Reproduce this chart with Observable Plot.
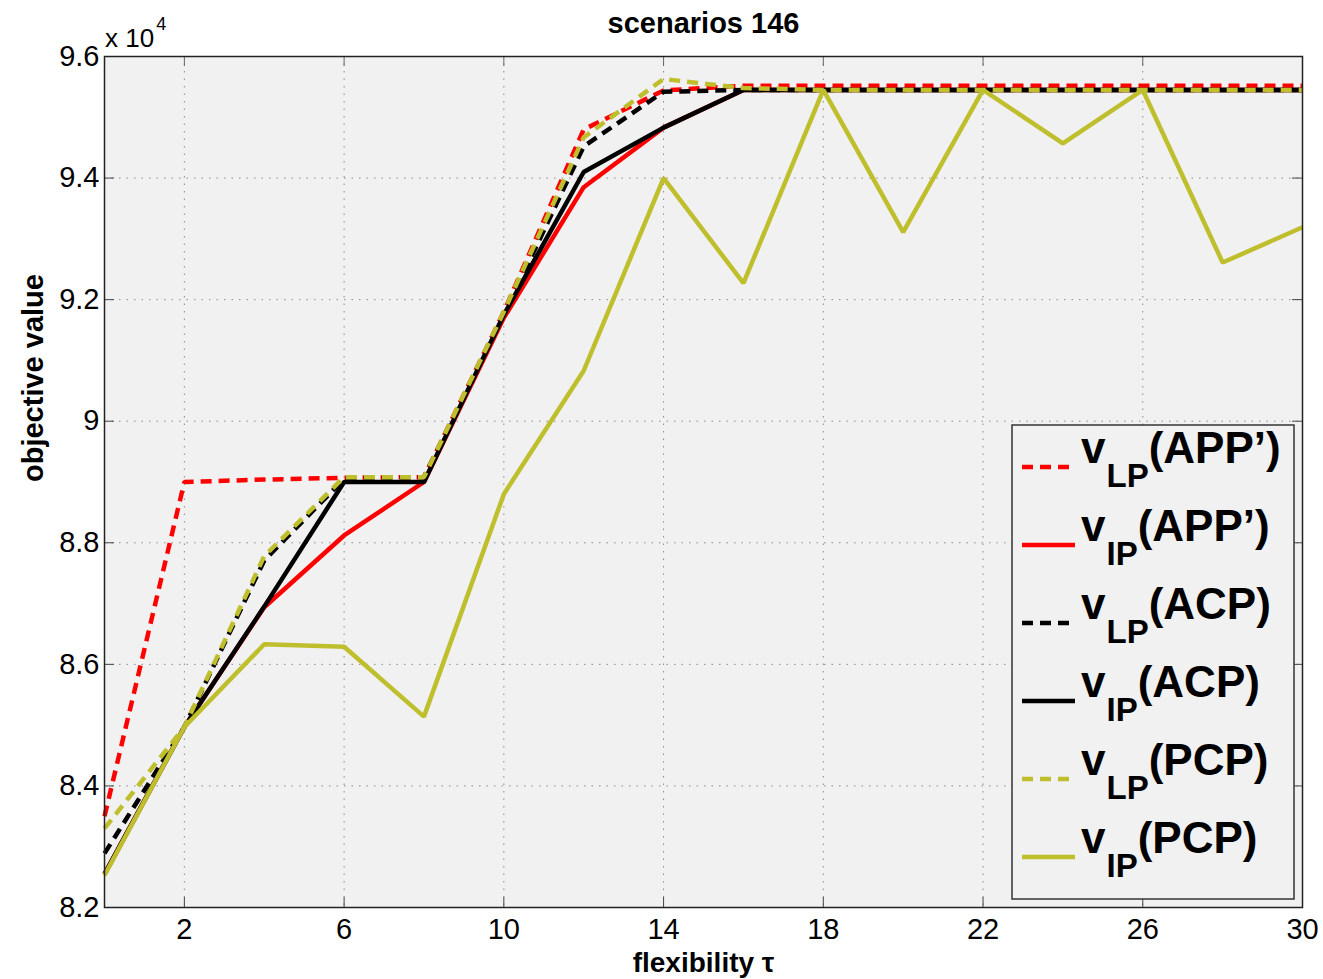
<!DOCTYPE html>
<html>
<head>
<meta charset="utf-8">
<script src="https://cdn.jsdelivr.net/npm/d3@7"></script>
<script src="https://cdn.jsdelivr.net/npm/@observablehq/plot@0.6"></script>
<style>
  html, body { margin: 0; padding: 0; background: #ffffff; }
  #chart { width: 1323px; height: 979px; }
</style>
</head>
<body>
<div id="chart"></div>
<script>
// ---------- data ----------
const tau = [0, 2, 4, 6, 8, 10, 12, 14, 16, 18, 20, 22, 24, 26, 28, 30];

const vLP_APP = [83500, 89000, 89040, 89070, 89080, 91800, 94800, 95440, 95520, 95520, 95520, 95520, 95520, 95520, 95520, 95520];
const vIP_APP = [82550, 84970, 86940, 88120, 89000, 91700, 93850, 94830, 95450, 95450, 95450, 95450, 95450, 95450, 95450, 95450];
const vLP_ACP = [82890, 84970, 87710, 89050, 89080, 91750, 94520, 95420, 95450, 95450, 95450, 95450, 95450, 95450, 95450, 95450];
const vIP_ACP = [82550, 84970, 86950, 89000, 89000, 91750, 94100, 94830, 95450, 95450, 95450, 95450, 95450, 95450, 95450, 95450];
const vLP_PCP = [83300, 84970, 87780, 89080, 89080, 91800, 94670, 95630, 95480, 95450, 95450, 95450, 95450, 95450, 95450, 95450];
const vIP_PCP = [82530, 84970, 86330, 86290, 85140, 88800, 90830, 94000, 92270, 95450, 93110, 95450, 94570, 95450, 92610, 93190];

const seriesValues = [vLP_APP, vIP_APP, vLP_ACP, vIP_ACP, vLP_PCP, vIP_PCP];
const seriesNames  = ["vLP(APP')", "vIP(APP')", "vLP(ACP)", "vIP(ACP)", "vLP(PCP)", "vIP(PCP)"];
const legendSub    = ["LP", "IP", "LP", "IP", "LP", "IP"];
const legendName   = ["(APP\u2019)", "(APP\u2019)", "(ACP)", "(ACP)", "(PCP)", "(PCP)"];
const seriesColors = ["#ff0000", "#ff0000", "#000000", "#000000", "#bfbf2e", "#bfbf2e"];
const seriesDashed = [true, false, true, false, true, false];

const xTicks = [2, 6, 10, 14, 18, 22, 26, 30];
const yTicks = [82000, 84000, 86000, 88000, 90000, 92000, 94000, 96000];

const titleText = "scenarios 146";
const xLabel = "flexibility \u03c4";
const yLabel = "objective value";

// ---------- build table ----------
const rows = [];
seriesValues.forEach((vals, i) => {
  vals.forEach((v, j) => rows.push({tau: tau[j], value: v, series: seriesNames[i]}));
});

const FONT = "'Liberation Sans', Arial, Helvetica, sans-serif";
const W = 1323, H = 979;
const mL = 104, mR = 21, mT = 56, mB = 72;
const innerW = W - mL - mR, innerH = H - mT - mB;
const TICK = 10;
const LW = 4.5;

const lineMarks = seriesNames.map((name, i) =>
  Plot.line(rows.filter(r => r.series === name), {
    x: "tau", y: "value",
    stroke: seriesColors[i],
    strokeWidth: LW,
    strokeDasharray: seriesDashed[i] ? "11,7" : null,
    strokeLinecap: "butt",
    strokeLinejoin: "miter"
  })
);

const fmtY = d => String(+(d / 10000).toFixed(1));

const chart = Plot.plot({
  width: W, height: H,
  marginLeft: mL, marginRight: mR, marginTop: mT, marginBottom: mB,
  style: {fontFamily: FONT, background: "#ffffff", color: "#000"},
  x: {domain: [0, 30]},
  y: {domain: [82000, 96000]},
  marks: [
    Plot.frame({fill: "#f1f1f1", stroke: null}),
    Plot.gridX(xTicks, {stroke: "#8a8a8a", strokeOpacity: 1, strokeDasharray: "1.5,6"}),
    Plot.gridY(yTicks, {stroke: "#8a8a8a", strokeOpacity: 1, strokeDasharray: "1.5,6"}),
    // inward ticks, all four sides
    Plot.tickX(xTicks, {x: d => d, insetTop: innerH - TICK, stroke: "#444"}),
    Plot.tickX(xTicks, {x: d => d, insetBottom: innerH - TICK, stroke: "#666"}),
    Plot.tickY(yTicks, {y: d => d, insetRight: innerW - TICK, stroke: "#444"}),
    Plot.tickY(yTicks, {y: d => d, insetLeft: innerW - TICK, stroke: "#444"}),
    Plot.axisX(xTicks, {tickSize: 0, tickPadding: 11, fontSize: 29, tickFormat: d => String(d), label: null}),
    Plot.axisY(yTicks, {tickSize: 0, tickPadding: 5, fontSize: 29, tickFormat: fmtY, label: null}),
    ...lineMarks,
    Plot.frame({stroke: "#222", strokeWidth: 1.5}),
    Plot.text([titleText], {frameAnchor: "top", dy: -24, lineAnchor: "bottom", fontSize: 29, fontWeight: "bold"}),
    Plot.text([xLabel], {frameAnchor: "bottom", dy: 64, lineAnchor: "bottom", fontSize: 28, fontWeight: "bold"}),
    Plot.text([yLabel], {frameAnchor: "left", dx: -62, lineAnchor: "bottom", rotate: -90, fontSize: 29, fontWeight: "bold"})
  ]
});

// ---------- exponent label and legend ----------
const svg = d3.select(chart);
const expo = svg.append("text")
  .attr("x", mL + 1).attr("y", 47)
  .attr("text-anchor", "start")
  .attr("font-family", FONT).attr("font-size", 26).attr("fill", "#000");
expo.append("tspan").text("x 10");
expo.append("tspan").attr("font-size", 18).attr("dy", -17).attr("dx", 2).text("4");

const lg = svg.append("g").attr("text-anchor", "start");
const lgX = 1012, lgY = 425, lgW = 282, lgH = 474;
lg.append("rect")
  .attr("x", lgX).attr("y", lgY).attr("width", lgW).attr("height", lgH)
  .attr("fill", "#f1f1f1").attr("stroke", "#333").attr("stroke-width", 1.5);
seriesNames.forEach((name, i) => {
  const cy = 467 + i * 78;
  lg.append("line")
    .attr("x1", 1022).attr("x2", seriesDashed[i] ? 1071 : 1075)
    .attr("y1", cy).attr("y2", cy)
    .attr("stroke", seriesColors[i]).attr("stroke-width", LW)
    .attr("stroke-dasharray", seriesDashed[i] ? "11,7" : null);
  const t = lg.append("text")
    .attr("x", 1081).attr("y", cy - 4)
    .attr("text-anchor", "start")
    .attr("font-family", FONT).attr("font-weight", "bold")
    .attr("font-size", 44).attr("fill", "#000");
  t.append("tspan").text("v");
  t.append("tspan").attr("font-size", 33).attr("dy", 24).attr("dx", 1).text(legendSub[i]);
  t.append("tspan").attr("dy", -24).text(legendName[i]);
});

document.getElementById("chart").appendChild(chart);
</script>
</body>
</html>
